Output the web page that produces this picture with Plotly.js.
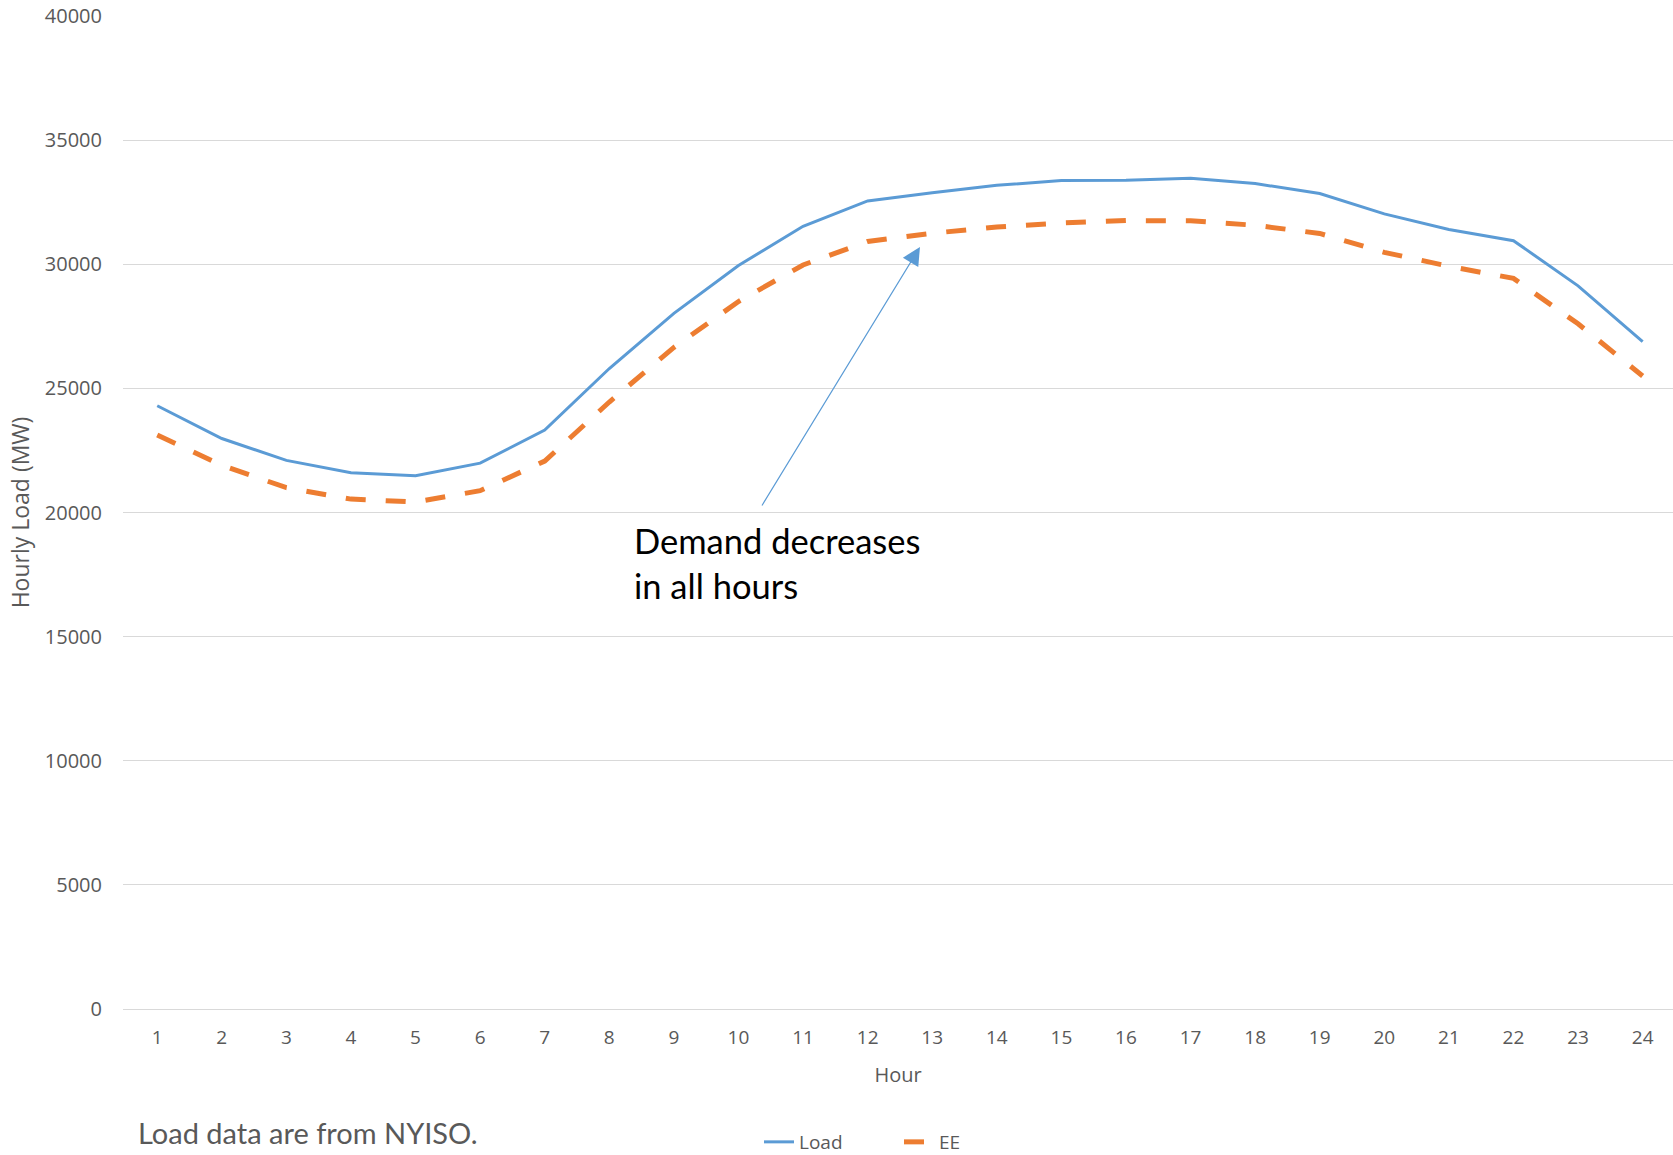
<!DOCTYPE html>
<html>
<head>
<meta charset="utf-8">
<script src="https://cdn.plot.ly/plotly-3.0.1.min.js"></script>
<style>html,body{margin:0;padding:0;background:#fff;}#chart{width:1673px;height:1155px;}</style>
</head>
<body>
<div id="chart"></div>
<script>
const hours = [1,2,3,4,5,6,7,8,9,10,11,12,13,14,15,16,17,18,19,20,21,22,23,24];
const loadMW = [24300,22980,22100,21600,21480,21990,23320,25800,28020,29950,31530,32550,32880,33180,33370,33380,33460,33250,32850,32030,31400,30950,29130,26880];
const eeMW = [23120,21900,21000,20540,20420,20880,22070,24450,26650,28500,29970,30920,31250,31500,31660,31760,31750,31570,31240,30480,29920,29430,27600,25500];
const seriesNames = ["Load", "EE"];
const annotationLines = ["Demand decreases", "in all hours"];
const footerText = "Load data are from NYISO.";

const gray = "#595959";
const traces = [
  {x: hours, y: loadMW, name: seriesNames[0], type: "scatter", mode: "lines",
   line: {color: "#5B9BD5", width: 3}},
  {x: hours, y: eeMW, name: seriesNames[1], type: "scatter", mode: "lines",
   line: {color: "#ED7D31", width: 5, dash: "20px,20px"}}
];

// plot area: left 123, right 1673, top 16, bottom 1009
const px = v => (v - 123) / 1550;
const py = v => (1009 - v) / 993;

const layout = {
  width: 1673, height: 1155,
  margin: {l: 123, r: 0, t: 16, b: 146, autoexpand: false},
  paper_bgcolor: "#fff", plot_bgcolor: "#fff",
  showlegend: true,
  legend: {orientation: "h", x: px(759), xanchor: "left", y: py(1142), yanchor: "middle",
           font: {family: "Open Sans", size: 19, color: gray}, entrywidth: 95, entrywidthmode: "pixels",
           tracegroupgap: 0},
  xaxis: {range: [0.47, 24.47], tickmode: "array", tickvals: hours, ticktext: hours.map(String),
          showgrid: false, zeroline: false, showline: false, ticks: "",
          tickfont: {family: "Open Sans", size: 19, color: gray}, ticklabelstandoff: 15,
          title: {text: "Hour", font: {family: "Open Sans", size: 20, color: gray}, standoff: 18}},
  yaxis: {range: [0, 40000], dtick: 5000, tick0: 0, tickformat: "d",
          showgrid: true, gridcolor: "#d9d9d9", gridwidth: 1,
          zeroline: true, zerolinecolor: "#d9d9d9", zerolinewidth: 1, showline: false, ticks: "",
          tickfont: {family: "Open Sans", size: 20, color: gray}, ticklabelstandoff: 20,
          title: {text: "Hourly Load (MW)", font: {family: "Open Sans", size: 23, color: gray}, standoff: 8}},
  annotations: [
    {x: 12.81, y: 30695, xref: "x", yref: "y", ax: 10.35, ay: 20222, axref: "x", ayref: "y",
     text: "", showarrow: true, arrowhead: 2, arrowsize: 3, arrowwidth: 1.2, arrowcolor: "#5B9BD5",
     standoff: 0, startstandoff: 0},
    {x: px(632), y: py(540), xref: "paper", yref: "paper", xanchor: "left", yanchor: "middle",
     text: annotationLines[0], showarrow: false, font: {family: "Lato", size: 34.5, color: "#000"}},
    {x: px(632), y: py(585), xref: "paper", yref: "paper", xanchor: "left", yanchor: "middle",
     text: annotationLines[1], showarrow: false, font: {family: "Lato", size: 34.5, color: "#000"}},
    {x: px(136), y: py(1132), xref: "paper", yref: "paper", xanchor: "left", yanchor: "middle",
     text: footerText, showarrow: false, font: {family: "Lato", size: 29, color: gray}}
  ]
};
Plotly.newPlot("chart", traces, layout, {displayModeBar: false, staticPlot: true});
</script>
</body>
</html>
